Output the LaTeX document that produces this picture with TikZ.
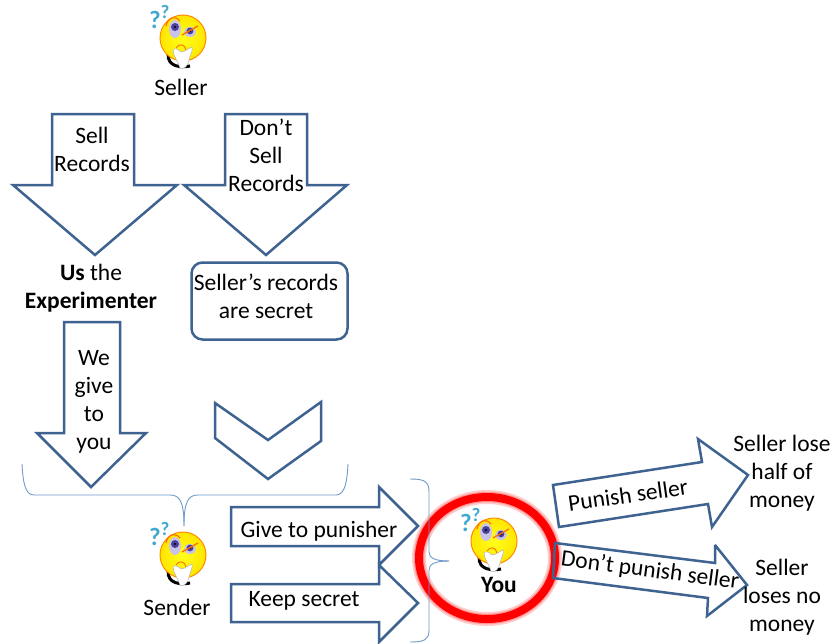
\documentclass[tikz,border=0pt]{standalone}
\usepackage{fontspec}
\setmainfont{Carlito}
\definecolor{arrowblue}{HTML}{3F6391}
\definecolor{bracketblue}{HTML}{6F9BC8}
\definecolor{qblue}{HTML}{3FA9D0}
\definecolor{eyeviolet}{HTML}{4A3F9A}
\definecolor{eyelav}{HTML}{C9C2EA}
\tikzset{
  blockarrow/.style={draw=arrowblue,line width=2.5pt,line join=miter,miter limit=3},
  bracketline/.style={draw=bracketblue,line width=0.9pt},
  label/.style={font=\fontsize{23.5}{28}\selectfont,align=center,inner sep=0pt,text=black},
  smiley/.pic={
    \draw[black,line width=3pt] (-14,12) .. controls (-18,25) and (-8,31) .. (7,28);
    \shade[inner color=yellow!90!white,outer color=yellow!80!orange,draw=orange!90!yellow,line width=1pt] (0,0) circle (23);
    \fill[eyelav] (-8,-9) ellipse (6 and 9);
    \fill[eyelav] (7,-6) ellipse (6 and 5);
    \fill[eyeviolet] (-8,-11) circle (4);
    \fill[eyeviolet] (7,-7) circle (3.4);
    \fill[black] (-8,-11) circle (1.2);
    \fill[black] (7,-7) circle (1);
    \draw[orange!85!red,line width=1.1pt] (-17,-12) .. controls (-15,-21) and (-8,-23) .. (-3,-17);
    \draw[orange!85!red,line width=1.3pt] (-1,-3) -- (15,-12);
    \draw[orange!85!red,line width=0.9pt] (-7,10) .. controls (-4,5) and (2,6) .. (3,12);
    \fill[white,draw=gray!60,line width=0.5pt] (-10,12) .. controls (-8,9) and (-4,12) .. (-2,14) .. controls (2,14) and (6,10) .. (9,9) .. controls (10,13) and (7,17) .. (6,22) .. controls (5,28) and (1,32) .. (-3,30) .. controls (-4,25) and (-10,18) .. (-10,12) -- cycle;
    \node[text=qblue,inner sep=0pt,font=\bfseries\fontsize{25}{25}\selectfont] at (-28,-18) {?};
    \node[text=qblue,inner sep=0pt,font=\bfseries\fontsize{19}{19}\selectfont] at (-18,-26) {?};
  }
}
\begin{document}
\begin{tikzpicture}[x=1pt,y=-1pt]
\useasboundingbox (0,0) rectangle (832,643);
\fill[white] (0,0) rectangle (832,643);

% smileys
\pic at (183,38) {smiley};
\pic at (183,555) {smiley};
\pic at (494,541) {smiley};

% seller arrows
\draw[blockarrow] (52,114) -- (134,114) -- (134,185) -- (177,185) -- (95,255) -- (13,185) -- (52,185) -- cycle;
\draw[blockarrow] (225,114) -- (307,114) -- (307,185) -- (347,185) -- (266,255) -- (184,185) -- (225,185) -- cycle;
% experimenter arrow
\draw[blockarrow] (64,322) -- (120,322) -- (120,433) -- (146,433) -- (91,487) -- (37,433) -- (64,433) -- cycle;
% chevron
\draw[blockarrow] (215,403) -- (268,440) -- (321,402) -- (321,441) -- (268,479) -- (215,438) -- cycle;
% rounded box
\node[draw=arrowblue,line width=2.5pt,rounded corners=11pt,minimum width=156pt,minimum height=77pt,inner sep=0pt] (secret) at (269.5,301) {};
\node[label] at (266,296) {Seller’s records\\are secret};

% left bracket
\draw[bracketline] (22,464) .. controls (23,482) and (25,495) .. (34,495) -- (170,495) .. controls (180,495) and (184,502) .. (184,526);
\draw[bracketline] (348,464) .. controls (347,482) and (345,495) .. (336,495) -- (198,495) .. controls (188,495) and (184,502) .. (184,526);

% red ring
\draw[red!20,line width=14pt] (487,558) ellipse (68 and 61);
\draw[red!40,line width=10.5pt] (487,558) ellipse (68 and 61);
\draw[red,line width=8pt] (487,558) ellipse (68 and 61);

% right bracket
\draw[bracketline] (410,479) .. controls (424,479) and (429,481) .. (429,492) -- (429,552) .. controls (429,558) and (435,561) .. (449,561);
\draw[bracketline] (410,642) .. controls (424,642) and (429,640) .. (429,630) -- (429,570) .. controls (429,564) and (435,561) .. (449,561);

% sender arrows
\draw[blockarrow] (231,507) -- (379,507) -- (379,487) -- (418,526) -- (379,565) -- (379,546) -- (231,546) -- cycle;
\draw[blockarrow] (231,584) -- (379,584) -- (379,565) -- (418,603) -- (379,642) -- (379,622) -- (231,622) -- cycle;
% punish arrows
\draw[blockarrow] (553,485) -- (702,462) -- (698,439) -- (748,475) -- (712,527) -- (708,504) -- (559,527) -- cycle;
\draw[blockarrow] (555,543) -- (715,563) -- (715,545) -- (747,585) -- (707,616) -- (708,598) -- (553,578) -- cycle;

% labels
\node[label] (seller) at (181,87) {Seller};
\node[label] at (92,149) {Sell\\Records};
\node[label] at (266,155) {Don’t\\Sell\\Records};
\node[label] at (91,288) {\textbf{Us} the\\\textbf{Experimenter}};
\node[label] at (94,402) {We\\give\\to\\you};
\node[label] at (177,607) {Sender};
\node[label] at (319,531) {Give to punisher};
\node[label] at (304,601) {Keep secret};
\node[label,font=\bfseries\fontsize{23.5}{28}\selectfont] at (499,585) {You};
\node[label,rotate=8] at (628,495) {Punish seller};
\node[label,rotate=-7.5] at (650,571) {Don’t punish seller};
\node[label] at (782,473) {Seller lose\\half of\\money};
\node[label] at (782,597) {Seller\\loses no\\money};
\end{tikzpicture}
\end{document}
